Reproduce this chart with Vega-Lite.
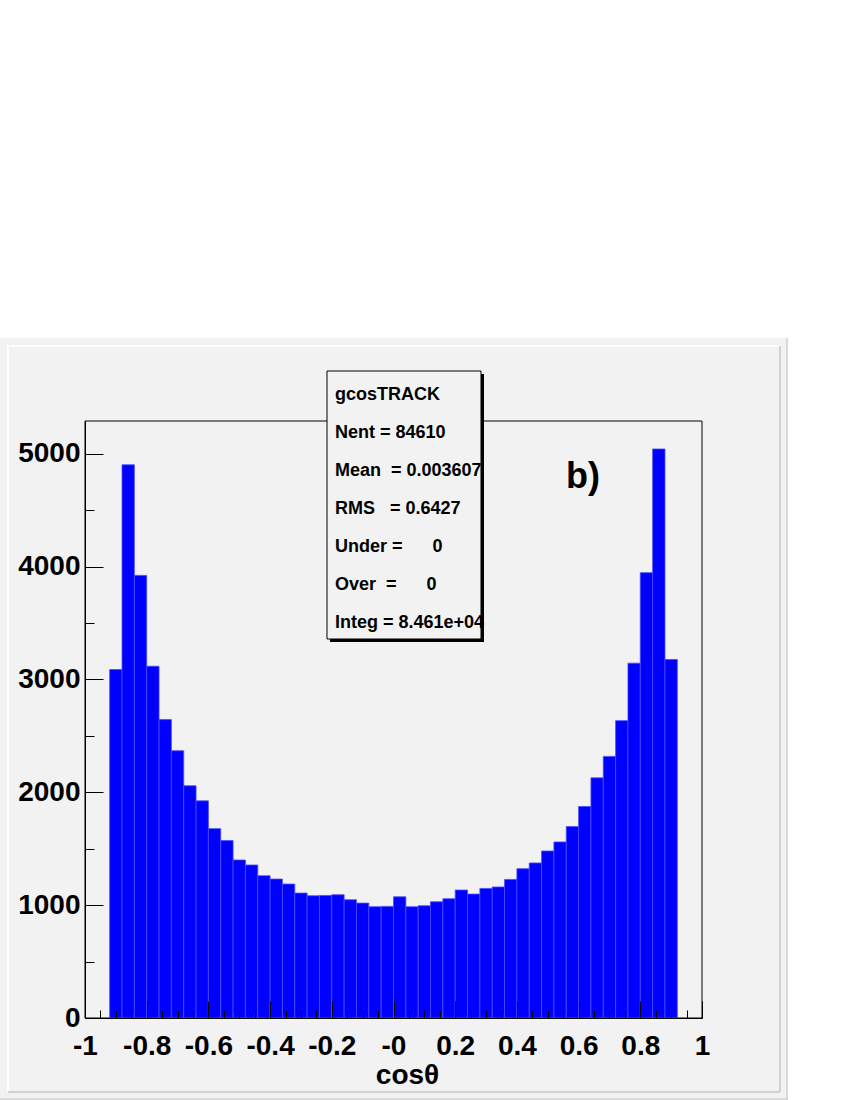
{
  "$schema": "https://vega.github.io/schema/vega-lite/v6.json",
  "width": 617,
  "height": 597,
  "autosize": {"type": "none"},
  "padding": {"left": 85, "top": 421, "right": 148, "bottom": 82},
  "background": "white",
  "config": {
    "view": {"stroke": null},
    "font": "Liberation Sans",
    "axis": {
      "grid": false,
      "domainColor": "black",
      "domainWidth": 1,
      "tickColor": "black",
      "tickWidth": 1,
      "labelColor": "black",
      "titleColor": "black",
      "labelFont": "Liberation Sans",
      "titleFont": "Liberation Sans",
      "labelFontWeight": "bold",
      "titleFontWeight": "bold",
      "labelFontSize": 28,
      "titleFontSize": 28
    }
  },
  "datasets": {
    "bins": [
      {"lo": -0.92, "hi": -0.88, "count": 3088},
      {"lo": -0.88, "hi": -0.84, "count": 4902},
      {"lo": -0.84, "hi": -0.80, "count": 3922},
      {"lo": -0.80, "hi": -0.76, "count": 3117},
      {"lo": -0.76, "hi": -0.72, "count": 2644},
      {"lo": -0.72, "hi": -0.68, "count": 2368},
      {"lo": -0.68, "hi": -0.64, "count": 2058},
      {"lo": -0.64, "hi": -0.60, "count": 1924},
      {"lo": -0.60, "hi": -0.56, "count": 1678},
      {"lo": -0.56, "hi": -0.52, "count": 1572},
      {"lo": -0.52, "hi": -0.48, "count": 1400},
      {"lo": -0.48, "hi": -0.44, "count": 1356},
      {"lo": -0.44, "hi": -0.40, "count": 1261},
      {"lo": -0.40, "hi": -0.36, "count": 1231},
      {"lo": -0.36, "hi": -0.32, "count": 1187},
      {"lo": -0.32, "hi": -0.28, "count": 1107},
      {"lo": -0.28, "hi": -0.24, "count": 1083},
      {"lo": -0.24, "hi": -0.20, "count": 1086},
      {"lo": -0.20, "hi": -0.16, "count": 1092},
      {"lo": -0.16, "hi": -0.12, "count": 1048},
      {"lo": -0.12, "hi": -0.08, "count": 1018},
      {"lo": -0.08, "hi": -0.04, "count": 986},
      {"lo": -0.04, "hi": 0.00, "count": 989},
      {"lo": 0.00, "hi": 0.04, "count": 1074},
      {"lo": 0.04, "hi": 0.08, "count": 986},
      {"lo": 0.08, "hi": 0.12, "count": 995},
      {"lo": 0.12, "hi": 0.16, "count": 1030},
      {"lo": 0.16, "hi": 0.20, "count": 1057},
      {"lo": 0.20, "hi": 0.24, "count": 1134},
      {"lo": 0.24, "hi": 0.28, "count": 1098},
      {"lo": 0.28, "hi": 0.32, "count": 1148},
      {"lo": 0.32, "hi": 0.36, "count": 1161},
      {"lo": 0.36, "hi": 0.40, "count": 1228},
      {"lo": 0.40, "hi": 0.44, "count": 1323},
      {"lo": 0.44, "hi": 0.48, "count": 1374},
      {"lo": 0.48, "hi": 0.52, "count": 1480},
      {"lo": 0.52, "hi": 0.56, "count": 1560},
      {"lo": 0.56, "hi": 0.60, "count": 1696},
      {"lo": 0.60, "hi": 0.64, "count": 1874},
      {"lo": 0.64, "hi": 0.68, "count": 2128},
      {"lo": 0.68, "hi": 0.72, "count": 2318},
      {"lo": 0.72, "hi": 0.76, "count": 2635},
      {"lo": 0.76, "hi": 0.80, "count": 3144},
      {"lo": 0.80, "hi": 0.84, "count": 3946},
      {"lo": 0.84, "hi": 0.88, "count": 5042},
      {"lo": 0.88, "hi": 0.92, "count": 3177}
    ]
  },
  "data": {"name": "bins"},
  "resolve": {"axis": {"x": "independent", "y": "independent"}},
  "layer": [
    {
      "data": {"values": [{}]},
      "mark": {"type": "rect", "fill": "#f2f2f2", "clip": false},
      "encoding": {
        "x": {"datum": -1.27553, "type": "quantitative", "axis": null, "scale": {"domain": [-1, 1], "nice": false, "zero": false, "padding": 0}},
        "x2": {"datum": 1.27877},
        "y": {"datum": 6025.5, "type": "quantitative", "axis": null, "scale": {"domain": [0, 5290], "nice": false, "padding": 0}},
        "y2": {"datum": -726.6}
      }
    },
    {
      "data": {"values": [{}]},
      "mark": {"type": "rect", "fillOpacity": 0, "stroke": "#ffffff", "strokeWidth": 1.5, "clip": false},
      "encoding": {
        "x": {"datum": -1.24959, "type": "quantitative", "axis": null, "scale": {"domain": [-1, 1], "nice": false, "zero": false, "padding": 0}},
        "x2": {"datum": 1.25284},
        "y": {"datum": 5954.6, "type": "quantitative", "axis": null, "scale": {"domain": [0, 5290], "nice": false, "padding": 0}},
        "y2": {"datum": -655.7}
      }
    },
    {
      "data": {"values": [{}]},
      "mark": {"type": "rule", "color": "#c4c4c4", "strokeWidth": 1.5, "clip": false},
      "encoding": {
        "x": {"datum": -1.24959, "type": "quantitative", "axis": null, "scale": {"domain": [-1, 1], "nice": false, "zero": false, "padding": 0}},
        "x2": {"datum": 1.25284},
        "y": {"datum": -655.7, "type": "quantitative", "axis": null, "scale": {"domain": [0, 5290], "nice": false, "padding": 0}}
      }
    },
    {
      "data": {"values": [{}]},
      "mark": {"type": "rule", "color": "#c4c4c4", "strokeWidth": 1.5, "clip": false},
      "encoding": {
        "x": {"datum": 1.25284, "type": "quantitative", "axis": null, "scale": {"domain": [-1, 1], "nice": false, "zero": false, "padding": 0}},
        "y": {"datum": 5954.6, "type": "quantitative", "axis": null, "scale": {"domain": [0, 5290], "nice": false, "padding": 0}},
        "y2": {"datum": -655.7}
      }
    },
    {
      "data": {"values": [{}]},
      "mark": {"type": "rule", "color": "#d2d2d2", "strokeWidth": 1.5, "clip": false},
      "encoding": {
        "x": {"datum": -1.27553, "type": "quantitative", "axis": null, "scale": {"domain": [-1, 1], "nice": false, "zero": false, "padding": 0}},
        "x2": {"datum": 1.27877},
        "y": {"datum": -717.7, "type": "quantitative", "axis": null, "scale": {"domain": [0, 5290], "nice": false, "padding": 0}}
      }
    },
    {
      "data": {"values": [{}]},
      "mark": {"type": "rule", "color": "#d2d2d2", "strokeWidth": 1.5, "clip": false},
      "encoding": {
        "x": {"datum": 1.27553, "type": "quantitative", "axis": null, "scale": {"domain": [-1, 1], "nice": false, "zero": false, "padding": 0}},
        "y": {"datum": 6025.5, "type": "quantitative", "axis": null, "scale": {"domain": [0, 5290], "nice": false, "padding": 0}},
        "y2": {"datum": -726.6}
      }
    },
    {
      "data": {"values": [{}]},
      "mark": {"type": "rect", "fillOpacity": 0, "stroke": "black", "strokeWidth": 1, "clip": false},
      "encoding": {
        "x": {"datum": -1, "type": "quantitative", "axis": null, "scale": {"domain": [-1, 1], "nice": false, "zero": false, "padding": 0}},
        "x2": {"datum": 1},
        "y": {"datum": 0, "type": "quantitative", "axis": null, "scale": {"domain": [0, 5290], "nice": false, "padding": 0}},
        "y2": {"datum": 5290}
      }
    },
    {
      "mark": {"type": "rect", "fill": "#0000ff", "stroke": "#4a4aff", "strokeWidth": 0.8, "clip": false},
      "encoding": {
        "x": {
          "field": "lo", "type": "quantitative",
          "scale": {"domain": [-1, 1], "nice": false, "zero": false, "padding": 0},
          "axis": {
            "orient": "bottom",
            "zindex": 2,
            "values": [-1, -0.8, -0.6, -0.4, -0.2, 0, 0.2, 0.4, 0.6, 0.8, 1],
            "ticks": false,
            "labelExpr": "datum.value === 0 ? '-0' : '' + datum.value",
            "labelFlush": false,
            "labelOverlap": false,
            "labelPadding": 14,
            "title": "cosθ",
            "titleX": 322,
            "titleY": 65,
            "titleAlign": "center",
            "titleBaseline": "alphabetic"
          }
        },
        "x2": {"field": "hi"},
        "y": {
          "field": "count", "type": "quantitative",
          "scale": {"domain": [0, 5290], "nice": false, "padding": 0},
          "axis": {
            "orient": "left",
            "zindex": 2,
            "values": [0, 1000, 2000, 3000, 4000, 5000],
            "ticks": false,
            "format": "d",
            "labelPadding": 5,
            "labelOverlap": false,
            "title": null
          }
        },
        "y2": {"datum": 0}
      }
    },
    {
      "mark": {"type": "rect", "opacity": 0},
      "encoding": {
        "x": {
          "field": "lo", "type": "quantitative",
          "scale": {"domain": [-1, 1], "nice": false, "zero": false, "padding": 0},
          "axis": {"orient": "bottom", "zindex": 2, "values": [-1, -0.8, -0.6, -0.4, -0.2, 0, 0.2, 0.4, 0.6, 0.8, 1], "tickSize": 17, "offset": -17, "labels": false, "domain": false, "title": null}
        },
        "x2": {"field": "hi"},
        "y": {
          "field": "count", "type": "quantitative",
          "scale": {"domain": [0, 5290], "nice": false, "padding": 0},
          "axis": {"orient": "left", "zindex": 2, "values": [0, 1000, 2000, 3000, 4000, 5000], "tickSize": 18, "offset": -18, "labels": false, "domain": false, "title": null}
        },
        "y2": {"datum": 0}
      }
    },
    {
      "mark": {"type": "rect", "opacity": 0},
      "encoding": {
        "x": {
          "field": "lo", "type": "quantitative",
          "scale": {"domain": [-1, 1], "nice": false, "zero": false, "padding": 0},
          "axis": {"orient": "bottom", "zindex": 2, "values": [-0.95, -0.9, -0.85, -0.75, -0.7, -0.65, -0.55, -0.5, -0.45, -0.35, -0.3, -0.25, -0.15, -0.1, -0.05, 0.05, 0.1, 0.15, 0.25, 0.3, 0.35, 0.45, 0.5, 0.55, 0.65, 0.7, 0.75, 0.85, 0.9, 0.95], "tickSize": 8, "offset": -8, "labels": false, "domain": false, "title": null}
        },
        "x2": {"field": "hi"},
        "y": {
          "field": "count", "type": "quantitative",
          "scale": {"domain": [0, 5290], "nice": false, "padding": 0},
          "axis": {"orient": "left", "zindex": 2, "values": [500, 1500, 2500, 3500, 4500], "tickSize": 9, "offset": -9, "labels": false, "domain": false, "title": null}
        },
        "y2": {"datum": 0}
      }
    },
    {
      "data": {"values": [{}]},
      "mark": {"type": "rect", "fill": "black", "clip": false},
      "encoding": {
        "x": {"datum": -0.20584, "type": "quantitative", "axis": null, "scale": {"domain": [-1, 1], "nice": false, "zero": false, "padding": 0}},
        "x2": {"datum": 0.29335},
        "y": {"datum": 5706, "type": "quantitative", "axis": null, "scale": {"domain": [0, 5290], "nice": false, "padding": 0}},
        "y2": {"datum": 3331.7}
      }
    },
    {
      "data": {"values": [{}]},
      "mark": {"type": "rect", "fill": "#f2f2f2", "stroke": "black", "strokeWidth": 1, "clip": false},
      "encoding": {
        "x": {"datum": -0.21556, "type": "quantitative", "axis": null, "scale": {"domain": [-1, 1], "nice": false, "zero": false, "padding": 0}},
        "x2": {"datum": 0.28363},
        "y": {"datum": 5733, "type": "quantitative", "axis": null, "scale": {"domain": [0, 5290], "nice": false, "padding": 0}},
        "y2": {"datum": 3358.3}
      }
    },
    {
      "data": {"values": [{}]},
      "mark": {
        "type": "text",
        "text": ["gcosTRACK", "Nent = 84610", "Mean\u00a0\u00a0= 0.003607", "RMS\u00a0\u00a0\u00a0= 0.6427", "Under =\u00a0\u00a0\u00a0\u00a0\u00a0\u00a00", "Over\u00a0\u00a0=\u00a0\u00a0\u00a0\u00a0\u00a0\u00a00", "Integ = 8.461e+04"],
        "lineHeight": 38,
        "align": "left",
        "baseline": "alphabetic",
        "font": "Liberation Sans",
        "fontWeight": "bold",
        "fontSize": 18,
        "color": "black",
        "clip": false
      },
      "encoding": {
        "x": {"datum": -0.18963, "type": "quantitative", "axis": null, "scale": {"domain": [-1, 1], "nice": false, "zero": false, "padding": 0}},
        "y": {"datum": 5476, "type": "quantitative", "axis": null, "scale": {"domain": [0, 5290], "nice": false, "padding": 0}}
      }
    },
    {
      "data": {"values": [{}]},
      "mark": {"type": "text", "text": "b)", "align": "left", "baseline": "alphabetic", "font": "Liberation Sans", "fontWeight": "bold", "fontSize": 36, "color": "black", "clip": false},
      "encoding": {
        "x": {"datum": 0.55916, "type": "quantitative", "axis": null, "scale": {"domain": [-1, 1], "nice": false, "zero": false, "padding": 0}},
        "y": {"datum": 4696, "type": "quantitative", "axis": null, "scale": {"domain": [0, 5290], "nice": false, "padding": 0}}
      }
    }
  ]
}
